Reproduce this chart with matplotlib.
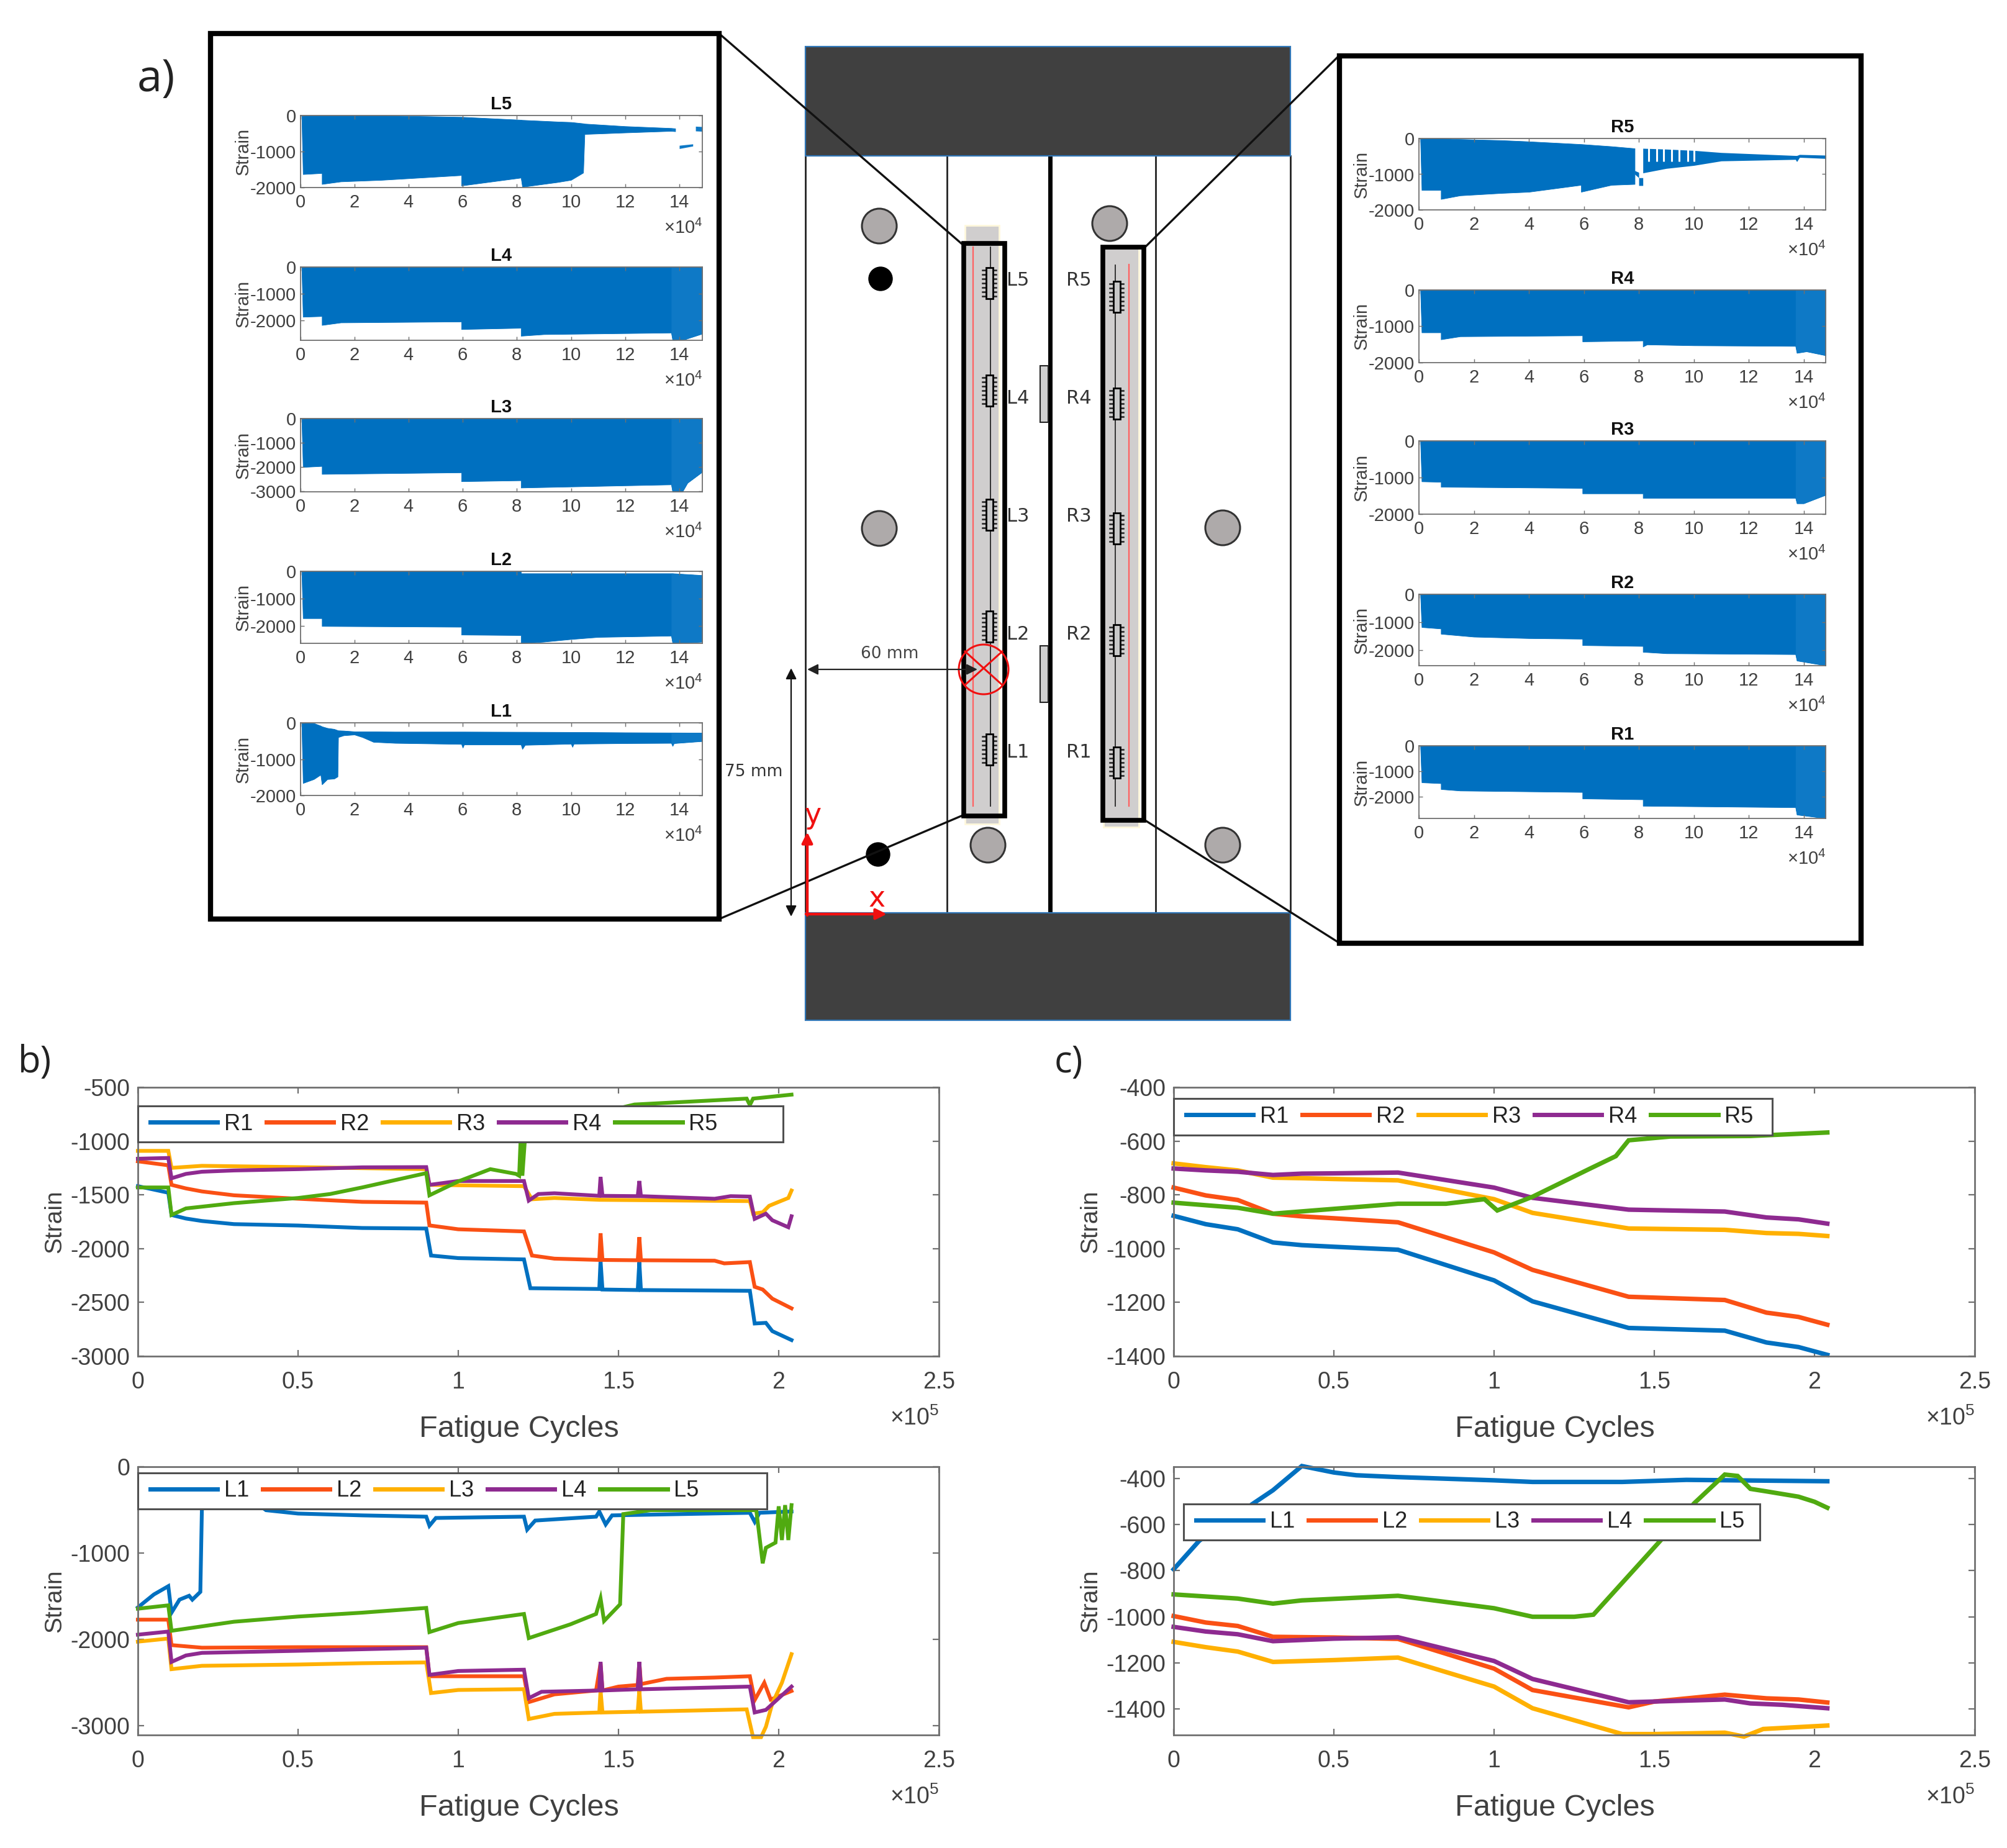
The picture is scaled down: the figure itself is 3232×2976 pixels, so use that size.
"""
Strain gauge figure: specimen sketch with raw strain insets (a),
peak strain (b) and strain range (c) against fatigue cycles.
All layout numbers are pixels of the 3232x2976 picture.
"""

import matplotlib

matplotlib.use("Agg")
import matplotlib.pyplot as plt
from matplotlib.patches import Circle, Rectangle

WIDTH = 3232
HEIGHT = 2976

plt.rcParams["font.family"] = ["Liberation Sans", "DejaVu Sans"]
plt.rcParams["axes.unicode_minus"] = False
plt.rcParams["mathtext.default"] = "regular"

BLUE = "#0070C0"
LIGHT_BLUE = "#0E79C6"
ORANGE = "#FA5014"
YELLOW = "#FFB000"
PURPLE = "#8E2A90"
GREEN = "#50AA10"
SERIES_COLORS = [BLUE, ORANGE, YELLOW, PURPLE, GREEN]
SPINE = "#707070"
TEXT = "#404040"

# insets of panel a, x in 1e4 cycles: lower edge of the strain band
L5_X = [0.05, 0.1, 0.8, 0.8, 1.5, 3, 5.95, 5.95, 8.15, 8.2, 9.5, 10, 10.45, 10.5, 12, 13.7, 13.85]
L5_LOW = [0, -1630, -1600, -1904, -1833, -1790, -1658, -1947, -1728, -1982, -1851, -1789, -1588, -517, -474, -430, -440]
L5_UP = [0, 0, 0, 0, 0, 0, -40, -40, -120, -125, -170, -184, -220, -228, -298, -350, -360]
L5_TAIL_X = [14.6, 14.85]
L5_TAIL_LOW = [-430, -440]
L5_TAIL_UP = [-300, -310]
L5_BLIP_X = [14.0, 14.5]
L5_BLIP_LOW = [-920, -850]
L5_BLIP_UP = [-830, -790]

L4_X = [0.05, 0.1, 0.8, 0.8, 1.5, 5.95, 5.95, 8.15, 8.15, 9, 13.7, 13.75, 14.2, 14.85]
L4_LOW = [0, -1876, -1852, -2187, -2091, -2055, -2342, -2294, -2593, -2533, -2473, -2760, -2725, -2510]

L3_X = [0.05, 0.1, 0.8, 0.8, 5.95, 5.95, 8.15, 8.15, 13.7, 13.75, 14.1, 14.3, 14.85]
L3_LOW = [0, -2000, -1960, -2287, -2222, -2588, -2549, -2849, -2719, -3040, -3040, -2653, -2196]

L2_X = [0.05, 0.1, 0.8, 0.8, 5.95, 5.95, 8.15, 8.15, 9, 10, 11, 13.7, 13.75, 14.85]
L2_LOW = [0, -1710, -1710, -1995, -2023, -2308, -2327, -2622, -2565, -2470, -2394, -2346, -2622, -2565]
L2_UP = [0, 0, 0, 0, 0, 0, 0, -76, -76, -76, -76, -76, -76, -142]

L1_X = [0.05, 0.1, 0.5, 0.75, 0.8, 1.0, 1.25, 1.38, 1.4, 1.6, 2.0, 2.3, 2.7, 3.5, 5.95, 6.0, 6.05, 8.15, 8.2, 8.3, 10, 10.05, 10.1, 12, 13.7, 13.75, 13.8, 14.85]
L1_LOW = [0, -1660, -1552, -1430, -1697, -1552, -1538, -1480, -397, -347, -325, -397, -527, -556, -585, -686, -600, -600, -722, -610, -578, -665, -578, -563, -556, -640, -563, -505]
L1_UP = [0, 0, -10, -80, -100, -144, -170, -205, -210, -216, -238, -240, -240, -245, -245, -245, -245, -250, -250, -250, -255, -255, -255, -265, -270, -270, -270, -274]

R5_X = [0.05, 0.1, 0.8, 0.8, 1.5, 3, 4, 5.9, 5.9, 7, 7.85]
R5_LOW = [0, -1445, -1445, -1697, -1596, -1529, -1495, -1302, -1495, -1302, -1277]
R5_UP = [0, 0, 0, 0, -20, -50, -84, -160, -160, -220, -277]
R5_AFTER_X = [8.15, 9, 10, 11, 13.7, 13.75, 13.85, 14.85]
R5_AFTER_LOW = [-966, -840, -756, -630, -588, -650, -530, -563]
R5_AFTER_UP = [-277, -300, -336, -395, -479, -479, -450, -470]
R5_BLOB_X = [7.85, 8.0, 8.0, 8.15]
R5_BLOB_LOW = [-1000, -1100, -1319, -1319]
R5_BLOB_UP = [-900, -950, -1100, -1100]
R5_SLITS = [8.35, 8.66, 8.9, 9.2, 9.47, 9.78, 10.0]

R4_X = [0.05, 0.1, 0.8, 0.8, 1.5, 5.95, 5.95, 8.15, 8.15, 8.3, 10, 13.7, 13.75, 14.1, 14.85]
R4_LOW = [0, -1173, -1173, -1363, -1280, -1255, -1420, -1396, -1561, -1503, -1528, -1545, -1735, -1693, -1809]

R3_X = [0.05, 0.1, 0.8, 0.8, 5.95, 5.95, 8.15, 8.15, 13.7, 13.75, 14.0, 14.85]
R3_LOW = [0, -1107, -1120, -1255, -1287, -1435, -1435, -1558, -1558, -1706, -1706, -1460]

R2_X = [0.05, 0.1, 0.8, 0.8, 2, 4, 5.95, 5.95, 8.15, 8.15, 9, 13.7, 13.75, 14.85]
R2_LOW = [0, -1175, -1227, -1414, -1518, -1570, -1591, -1820, -1851, -2059, -2111, -2142, -2371, -2550]

R1_X = [0.05, 0.1, 0.8, 0.8, 1.5, 5.95, 5.95, 8.15, 8.15, 13.7, 13.75, 14.85]
R1_LOW = [0, -1437, -1472, -1702, -1760, -1817, -2070, -2105, -2357, -2415, -2702, -2850]

# panel b, x in 1e5 cycles
B_R1_X = [0, 0.095, 0.105, 0.15, 0.2, 0.3, 0.5, 0.7, 0.9, 0.915, 1.0, 1.205, 1.225, 1.44, 1.444, 1.45, 1.56, 1.565, 1.57, 1.91, 1.925, 1.96, 1.98, 2.04]
B_R1_Y = [-1419, -1480, -1687, -1720, -1743, -1772, -1785, -1808, -1813, -2064, -2088, -2100, -2368, -2375, -2112, -2380, -2385, -2125, -2385, -2392, -2696, -2690, -2767, -2850]
B_R2_X = [0, 0.095, 0.105, 0.15, 0.2, 0.3, 0.5, 0.7, 0.9, 0.91, 1.0, 1.205, 1.23, 1.3, 1.44, 1.444, 1.45, 1.56, 1.565, 1.57, 1.8, 1.83, 1.91, 1.925, 1.95, 1.98, 2.04]
B_R2_Y = [-1188, -1225, -1407, -1440, -1468, -1504, -1536, -1565, -1572, -1784, -1820, -1840, -2064, -2093, -2105, -1857, -2105, -2108, -1893, -2108, -2112, -2137, -2125, -2355, -2380, -2465, -2555]
B_R3_X = [0, 0.095, 0.105, 0.2, 0.5, 0.9, 0.91, 1.205, 1.23, 1.3, 1.44, 1.91, 1.92, 1.95, 1.97, 2.0, 2.03, 2.04]
B_R3_Y = [-1091, -1091, -1249, -1230, -1242, -1261, -1407, -1419, -1541, -1529, -1546, -1558, -1675, -1662, -1602, -1565, -1529, -1460]
B_R4_X = [0, 0.095, 0.105, 0.15, 0.2, 0.3, 0.5, 0.7, 0.9, 0.91, 1.0, 1.205, 1.22, 1.25, 1.3, 1.44, 1.444, 1.45, 1.56, 1.565, 1.57, 1.8, 1.85, 1.91, 1.925, 1.96, 1.98, 2.03, 2.04]
B_R4_Y = [-1164, -1157, -1346, -1305, -1285, -1273, -1261, -1244, -1242, -1407, -1371, -1371, -1553, -1492, -1485, -1509, -1334, -1509, -1512, -1371, -1512, -1536, -1512, -1516, -1723, -1675, -1736, -1801, -1699]
B_R5_X = [0, 0.095, 0.105, 0.15, 0.3, 0.5, 0.6, 0.7, 0.9, 0.91, 1.0, 1.1, 1.18, 1.19, 1.195, 1.2, 1.21, 1.55, 1.9, 1.91, 1.92, 2.04]
B_R5_Y = [-1431, -1431, -1687, -1626, -1577, -1529, -1492, -1431, -1298, -1504, -1375, -1261, -1305, -1322, -950, -1322, -900, -660, -605, -665, -605, -568]

B_L1_X = [0, 0.05, 0.095, 0.105, 0.13, 0.16, 0.17, 0.195, 0.2, 0.38, 0.4, 0.5, 0.7, 0.9, 0.91, 0.93, 1.205, 1.215, 1.24, 1.43, 1.44, 1.46, 1.48, 1.91, 1.925, 1.94, 2.04]
B_L1_Y = [-1631, -1481, -1385, -1692, -1541, -1496, -1541, -1451, -459, -450, -504, -543, -564, -579, -684, -594, -579, -729, -624, -579, -519, -669, -564, -534, -639, -534, -519]
B_L2_X = [0, 0.095, 0.105, 0.2, 0.5, 0.9, 0.91, 1.205, 1.22, 1.3, 1.43, 1.444, 1.45, 1.5, 1.56, 1.565, 1.57, 1.65, 1.8, 1.91, 1.925, 1.955, 1.975, 2.04]
B_L2_Y = [-1773, -1773, -2068, -2098, -2092, -2092, -2429, -2429, -2729, -2639, -2594, -2280, -2594, -2549, -2530, -2263, -2520, -2459, -2444, -2429, -2705, -2504, -2699, -2600]
B_L3_X = [0, 0.095, 0.105, 0.2, 0.5, 0.7, 0.9, 0.915, 1.0, 1.205, 1.22, 1.3, 1.44, 1.444, 1.45, 1.56, 1.565, 1.57, 1.9, 1.92, 1.945, 1.96, 1.98, 2.01, 2.04]
B_L3_Y = [-2028, -1992, -2347, -2308, -2293, -2278, -2269, -2624, -2588, -2579, -2925, -2865, -2849, -2594, -2849, -2840, -2594, -2840, -2813, -3135, -3135, -3015, -2745, -2504, -2173]
B_L4_X = [0, 0.095, 0.105, 0.15, 0.2, 0.5, 0.9, 0.91, 1.0, 1.205, 1.22, 1.26, 1.44, 1.444, 1.45, 1.56, 1.565, 1.57, 1.91, 1.925, 1.96, 2.04]
B_L4_Y = [-1947, -1911, -2263, -2188, -2158, -2134, -2098, -2413, -2368, -2353, -2683, -2609, -2594, -2263, -2594, -2580, -2263, -2580, -2549, -2849, -2819, -2549]
B_L5_X = [0, 0.095, 0.105, 0.3, 0.5, 0.7, 0.9, 0.91, 1.0, 1.205, 1.22, 1.35, 1.43, 1.444, 1.455, 1.505, 1.515, 1.6, 1.93, 1.95, 1.96, 1.99, 2.0, 2.01, 2.02, 2.03, 2.04]
B_L5_Y = [-1646, -1607, -1902, -1797, -1737, -1692, -1637, -1917, -1812, -1707, -1987, -1827, -1707, -1526, -1788, -1595, -549, -504, -504, -1120, -940, -880, -459, -850, -445, -850, -445]

# panel c, x in 1e5 cycles
C_R_X = [0, 0.1, 0.2, 0.31, 0.4, 0.5, 0.7, 1.0, 1.12, 1.42, 1.72, 1.85, 1.95, 2.04]
C_R1_Y = [-878, -909, -928, -977, -987, -993, -1004, -1118, -1196, -1295, -1305, -1349, -1366, -1395]
C_R2_Y = [-773, -802, -819, -870, -880, -887, -902, -1014, -1079, -1179, -1191, -1238, -1254, -1283]
C_R3_Y = [-683, -697, -709, -736, -738, -741, -746, -816, -867, -925, -930, -942, -945, -953]
C_R4_Y = [-702, -709, -714, -726, -721, -720, -717, -773, -811, -855, -862, -884, -891, -907]
C_R5_X = [0, 0.2, 0.31, 0.5, 0.7, 0.85, 0.97, 1.01, 1.12, 1.3, 1.38, 1.42, 1.55, 1.8, 2.04]
C_R5_Y = [-829, -848, -870, -852, -833, -833, -816, -858, -807, -702, -656, -597, -583, -581, -568]

C_L1_X = [0, 0.08, 0.25, 0.31, 0.4, 0.5, 0.57, 0.7, 1.0, 1.12, 1.4, 1.6, 2.04]
C_L1_Y = [-794, -670, -507, -451, -346, -374, -386, -394, -408, -415, -415, -406, -412]
C_L2_X = [0, 0.1, 0.2, 0.31, 0.5, 0.7, 1.0, 1.12, 1.3, 1.42, 1.5, 1.72, 1.85, 1.95, 2.04]
C_L2_Y = [-997, -1025, -1040, -1087, -1090, -1096, -1225, -1318, -1363, -1393, -1368, -1338, -1354, -1359, -1372]
C_L3_X = [0, 0.1, 0.2, 0.31, 0.5, 0.7, 1.0, 1.12, 1.4, 1.5, 1.72, 1.78, 1.84, 2.04]
C_L3_Y = [-1109, -1132, -1151, -1196, -1188, -1177, -1303, -1397, -1509, -1509, -1503, -1520, -1487, -1472]
C_L4_X = [0, 0.1, 0.2, 0.31, 0.5, 0.7, 1.0, 1.12, 1.42, 1.72, 1.8, 1.9, 2.04]
C_L4_Y = [-1044, -1064, -1076, -1106, -1095, -1089, -1192, -1270, -1371, -1359, -1376, -1382, -1397]
C_L5_X = [0, 0.2, 0.31, 0.4, 0.7, 1.0, 1.12, 1.25, 1.31, 1.42, 1.625, 1.72, 1.76, 1.8, 1.85, 1.95, 2.0, 2.04]
C_L5_Y = [-903, -921, -943, -929, -909, -963, -1000, -1000, -991, -822, -507, -383, -389, -445, -456, -479, -501, -527]

RIGHT_NAMES = ["R1", "R2", "R3", "R4", "R5"]
LEFT_NAMES = ["L1", "L2", "L3", "L4", "L5"]
CYCLE_TICKS = [0, 0.5, 1, 1.5, 2, 2.5]
CYCLE_LABELS = ["0", "0.5", "1", "1.5", "2", "2.5"]
INSET_TICKS = [0, 2, 4, 6, 8, 10, 12, 14]


def px_axes(fig, left, top, right, bottom):
    return fig.add_axes(
        [left / WIDTH, 1 - bottom / HEIGHT, (right - left) / WIDTH, (bottom - top) / HEIGHT],
        zorder=2,
    )


def style_axes(ax, width, length):
    for spine in ax.spines.values():
        spine.set_color(SPINE)
        spine.set_linewidth(width)
    ax.tick_params(direction="in", top=True, right=True, color=SPINE, width=width * 0.8,
                   length=length, labelcolor=TEXT)


def inset(fig, bg, box, name, ylim, yticks, x, low, up=None, xlim=14.85):
    left, top, right, bottom = box
    ax = px_axes(fig, left, top, right, bottom)
    up = up if up is not None else [0] * len(x)
    ax.fill_between(x, low, up, color=BLUE, lw=0.6)
    ax.fill_between(x, low, up, where=[v >= 13.7 for v in x], color=LIGHT_BLUE, lw=0)
    ax.set_xlim(0, xlim)
    ax.set_ylim(ylim, 0)
    style_axes(ax, 1.3, 4)
    ax.set_xticks(INSET_TICKS)
    ax.set_yticks(yticks)
    ax.tick_params(labelsize=21)
    ax.tick_params(axis="x", pad=7)
    ax.tick_params(axis="y", pad=5)
    ax.set_title(name, fontsize=21, fontweight="bold", pad=7, color="#111111")
    ax.set_ylabel("Strain", fontsize=21, color=TEXT, va="center")
    ax.yaxis.set_label_coords(-92 / (right - left), 0.5)
    bg.text(right, bottom + 65, "×10$^{4}$", fontsize=21, color=TEXT, ha="right", va="center", zorder=9)
    return ax


def strain_panel(fig, bg, box, names, curves, ylim, yticks, legend_box, lw):
    left, top, right, bottom = box
    ax = px_axes(fig, left, top, right, bottom)
    for name, color, (x, y) in zip(names, SERIES_COLORS, curves):
        ax.plot(x, y, color=color, lw=lw, label=name, solid_joinstyle="miter", clip_on=False)
    ax.set_xlim(0, 2.5)
    ax.set_ylim(ylim)
    style_axes(ax, 2.0, 7)
    ax.set_xticks(CYCLE_TICKS, CYCLE_LABELS)
    ax.set_yticks(yticks)
    ax.tick_params(labelsize=27)
    ax.tick_params(axis="x", pad=17)
    ax.tick_params(axis="y", pad=9)
    w, h = right - left, bottom - top
    ax.set_xlabel("Fatigue Cycles", fontsize=35, color=TEXT, va="center")
    ax.xaxis.set_label_coords((w / 2 - 31) / w, -118 / h)
    ax.set_ylabel("Strain", fontsize=28, color=TEXT, va="center")
    ax.yaxis.set_label_coords(-134 / w, 0.5)
    bg.text(right, bottom + 100, "×10$^{5}$", fontsize=27, color=TEXT, ha="right", va="center", zorder=9)

    # the legend box is wider than its entries, so it gets its own frame
    lx0, ly0, lx1, ly1 = legend_box
    ax.add_patch(Rectangle(((lx0 - left) / w, (bottom - ly1) / h), (lx1 - lx0) / w, (ly1 - ly0) / h,
                           transform=ax.transAxes, fc="white", ec="#505050", lw=2.2, zorder=4,
                           clip_on=False))
    leg = ax.legend(
        loc="center left",
        bbox_to_anchor=((lx0 - left) / w, (bottom - (ly0 + ly1) / 2) / h),
        ncol=5, fontsize=26, frameon=False, borderaxespad=0, borderpad=0.55,
        handlelength=3.0, handletextpad=0.3, columnspacing=0.6, labelcolor="#222222",
    )
    for line in leg.get_lines():
        line.set_linewidth(5.0)
    leg.set_zorder(5)
    return ax


def draw_gauge(bg, x, y):
    for off in (-21, -14, -7, 0, 7, 14, 21):
        bg.plot([x - 11, x + 11], [y + off, y + off], color="#222222", lw=1.8, zorder=4)
    bg.add_patch(Rectangle((x - 5, y - 25), 11, 50, fc="#C8C8C8", ec="black", lw=2.0, zorder=5))


def draw_sketch(bg):
    # grips and specimen outline
    for y0, y1 in [(75, 251), (1470, 1643)]:
        bg.add_patch(Rectangle((1297, y0), 781, y1 - y0, fc="#404040", ec="#2E75B6", lw=1.6, zorder=2))
    for x in (1297, 1525, 1861, 2078):
        bg.plot([x, x], [251, 1470], color="#222222", lw=2, zorder=1)
    bg.plot([1691, 1691], [251, 1470], color="black", lw=5, zorder=1)
    for y0, y1 in [(589, 680), (1040, 1131)]:
        bg.add_patch(Rectangle((1675, y0), 13, y1 - y0, fc="#D0D0D0", ec="#222222", lw=1.5, zorder=1))

    # bolts and holes
    for x, y in [(1416, 364), (1416, 851), (1591, 1361), (1787, 360), (1969, 850), (1969, 1361)]:
        bg.add_patch(Circle((x, y), 28, fc="#AEAAAA", ec="#333333", lw=2.2, zorder=2))
    for x, y in [(1418, 449), (1414, 1376)]:
        bg.add_patch(Circle((x, y), 19, fc="black", ec="black", zorder=3))

    # grey bonded strips with the gauges
    bg.add_patch(Rectangle((1554, 363), 55, 964, fc="#D0CECE", ec="#FFF8DC", lw=2, zorder=2))
    bg.add_patch(Rectangle((1777, 398), 57, 934, fc="#D0CECE", ec="#FFF8DC", lw=2, zorder=2))
    bg.plot([1567, 1567], [398, 1298], color="#FF6060", lw=1.6, zorder=3)
    bg.plot([1595, 1595], [398, 1298], color="#333333", lw=1.4, zorder=3)
    bg.plot([1796, 1796], [427, 1298], color="#333333", lw=1.4, zorder=3)
    bg.plot([1818, 1818], [426, 1298], color="#FF6060", lw=1.6, zorder=3)
    for y in (456, 629, 829, 1009, 1207):
        draw_gauge(bg, 1593, y)
    for y in (478, 650, 851, 1031, 1228):
        draw_gauge(bg, 1798, y)
    bg.add_patch(Rectangle((1552, 392), 66, 922, fc="none", ec="black", lw=5.5, zorder=6))
    bg.add_patch(Rectangle((1776, 398), 66, 923, fc="none", ec="black", lw=5.5, zorder=6))

    for name, y in zip(["L5", "L4", "L3", "L2", "L1"], (451, 642, 831, 1022, 1212)):
        bg.text(1639, y, name, fontsize=22, family="DejaVu Sans", color="#333333",
                ha="center", va="center", zorder=7)
    for name, y in zip(["R5", "R4", "R3", "R2", "R1"], (451, 642, 831, 1022, 1212)):
        bg.text(1737, y, name, fontsize=22, family="DejaVu Sans", color="#333333",
                ha="center", va="center", zorder=7)

    # crack location
    bg.add_patch(Circle((1584, 1078), 40, fc="none", ec="#F01010", lw=2.2, zorder=7))
    bg.plot([1554, 1614], [1049, 1103], color="#F01010", lw=2.2, zorder=7)
    bg.plot([1554, 1614], [1103, 1049], color="#F01010", lw=2.2, zorder=7)

    # dimensions
    bg.annotate("", xy=(1300, 1078), xytext=(1574, 1078), zorder=8,
                arrowprops=dict(arrowstyle="<|-|>", color="#222222", lw=1.6, mutation_scale=26,
                                shrinkA=0, shrinkB=0))
    bg.text(1433, 1053, "60 mm", fontsize=19, family="DejaVu Sans", color="#444444", ha="center", va="center")
    bg.annotate("", xy=(1274, 1076), xytext=(1274, 1476), zorder=8,
                arrowprops=dict(arrowstyle="<|-|>", color="#111111", lw=1.6, mutation_scale=26,
                                shrinkA=0, shrinkB=0))
    bg.text(1214, 1243, "75 mm", fontsize=19, family="DejaVu Sans", color="#333333", ha="center", va="center")

    # coordinate arrows
    bg.annotate("", xy=(1300, 1340), xytext=(1300, 1474), zorder=8,
                arrowprops=dict(arrowstyle="-|>", color="#F01010", lw=3.2, mutation_scale=26,
                                shrinkA=0, shrinkB=0))
    bg.annotate("", xy=(1428, 1472), xytext=(1298, 1472), zorder=8,
                arrowprops=dict(arrowstyle="-|>", color="#F01010", lw=3.2, mutation_scale=26,
                                shrinkA=0, shrinkB=0))
    bg.text(1309, 1313, "y", fontsize=33, family="DejaVu Sans", color="#F01010", ha="center", va="center", zorder=8)
    bg.text(1412, 1447, "x", fontsize=33, family="DejaVu Sans", color="#F01010", ha="center", va="center", zorder=8)

    # zoom boxes with leader lines
    for p, q in [((1158, 54), (1548, 392)), ((1158, 1480), (1548, 1314)),
                 ((2156, 90), (1844, 398)), ((2156, 1518), (1844, 1321))]:
        bg.plot([p[0], q[0]], [p[1], q[1]], color="#111111", lw=2.4, zorder=3)
    bg.add_patch(Rectangle((339, 54), 819, 1426, fc="white", ec="black", lw=6, zorder=4))
    bg.add_patch(Rectangle((2157, 90), 840, 1429, fc="white", ec="black", lw=6, zorder=4))


fig = plt.figure(figsize=(WIDTH / 100, HEIGHT / 100), dpi=100)
bg = fig.add_axes([0, 0, 1, 1], zorder=0)
bg.set_xlim(0, WIDTH)
bg.set_ylim(HEIGHT, 0)
bg.axis("off")
draw_sketch(bg)

bg.text(251, 128, "a)", fontsize=52, family="Open Sans", color="#222222", ha="center", va="center")
bg.text(56, 1711, "b)", fontsize=43, family="Open Sans", color="#222222", ha="center", va="center")
bg.text(1721, 1711, "c)", fontsize=43, family="Open Sans", color="#222222", ha="center", va="center")

L_LEFT, L_RIGHT = 483.5, 1131
R_LEFT, R_RIGHT = 2285, 2940
ax = inset(fig, bg, (L_LEFT, 186, L_RIGHT, 302), "L5", -2000, [0, -1000, -2000], L5_X, L5_LOW, L5_UP)
ax.fill_between(L5_TAIL_X, L5_TAIL_LOW, L5_TAIL_UP, color=LIGHT_BLUE, lw=0)
ax.fill_between(L5_BLIP_X, L5_BLIP_LOW, L5_BLIP_UP, color=LIGHT_BLUE, lw=0)
inset(fig, bg, (L_LEFT, 430, L_RIGHT, 548), "L4", -2760, [0, -1000, -2000], L4_X, L4_LOW)
inset(fig, bg, (L_LEFT, 674, L_RIGHT, 792), "L3", -3020, [0, -1000, -2000, -3000], L3_X, L3_LOW)
inset(fig, bg, (L_LEFT, 920, L_RIGHT, 1036), "L2", -2622, [0, -1000, -2000], L2_X, L2_LOW, L2_UP)
inset(fig, bg, (L_LEFT, 1164, L_RIGHT, 1281), "L1", -2000, [0, -1000, -2000], L1_X, L1_LOW, L1_UP)

ax = inset(fig, bg, (R_LEFT, 223, R_RIGHT, 338), "R5", -2000, [0, -1000, -2000], R5_X, R5_LOW, R5_UP, xlim=14.8)
ax.fill_between(R5_AFTER_X, R5_AFTER_LOW, R5_AFTER_UP, color=BLUE, lw=0)
ax.fill_between(R5_BLOB_X, R5_BLOB_LOW, R5_BLOB_UP, color=BLUE, lw=0)
ax.vlines(R5_SLITS, -640, -260, color="white", lw=2.2)
inset(fig, bg, (R_LEFT, 466.5, R_RIGHT, 584), "R4", -2000, [0, -1000, -2000], R4_X, R4_LOW, xlim=14.8)
inset(fig, bg, (R_LEFT, 710, R_RIGHT, 828), "R3", -2000, [0, -1000, -2000], R3_X, R3_LOW, xlim=14.8)
inset(fig, bg, (R_LEFT, 957, R_RIGHT, 1072), "R2", -2550, [0, -1000, -2000], R2_X, R2_LOW, xlim=14.8)
inset(fig, bg, (R_LEFT, 1201, R_RIGHT, 1318), "R1", -2850, [0, -1000, -2000], R1_X, R1_LOW, xlim=14.8)

strain_panel(fig, bg, (222, 1751, 1512, 2184), RIGHT_NAMES,
             [(B_R1_X, B_R1_Y), (B_R2_X, B_R2_Y), (B_R3_X, B_R3_Y), (B_R4_X, B_R4_Y), (B_R5_X, B_R5_Y)],
             (-3000, -500), [-3000, -2500, -2000, -1500, -1000, -500], (222, 1781, 1261, 1839), 4.4)
strain_panel(fig, bg, (222, 2362, 1512, 2794), LEFT_NAMES,
             [(B_L1_X, B_L1_Y), (B_L2_X, B_L2_Y), (B_L3_X, B_L3_Y), (B_L4_X, B_L4_Y), (B_L5_X, B_L5_Y)],
             (-3110, 0), [-3000, -2000, -1000, 0], (222, 2372, 1235, 2430), 4.4)
strain_panel(fig, bg, (1890, 1751, 3180, 2184), RIGHT_NAMES,
             [(C_R_X, C_R1_Y), (C_R_X, C_R2_Y), (C_R_X, C_R3_Y), (C_R_X, C_R4_Y), (C_R5_X, C_R5_Y)],
             (-1400, -400), [-1400, -1200, -1000, -800, -600, -400], (1890, 1769, 2854, 1828), 5.2)
strain_panel(fig, bg, (1890, 2362, 3180, 2794), LEFT_NAMES,
             [(C_L1_X, C_L1_Y), (C_L2_X, C_L2_Y), (C_L3_X, C_L3_Y), (C_L4_X, C_L4_Y), (C_L5_X, C_L5_Y)],
             (-1513, -349), [-1400, -1200, -1000, -800, -600, -400], (1906, 2422, 2834, 2480), 5.2)

fig.savefig("out.png", dpi=100, facecolor="white")
plt.close(fig)
